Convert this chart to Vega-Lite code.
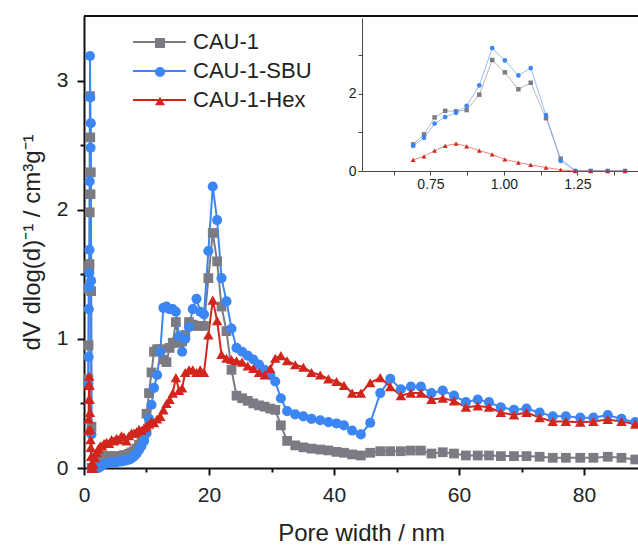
{
"$schema": "https://vega.github.io/schema/vega-lite/v6.json",
"width": 554, "height": 452,
"autosize": {"type": "none"},
"padding": {"left": 84, "top": 16, "right": 0, "bottom": 79},
"background": "white",
"config": {
  "view": {"stroke": null},
  "font": "Liberation Sans",
  "axis": {"labelFont": "Liberation Sans", "titleFont": "Liberation Sans", "labelColor": "#222", "titleColor": "#222", "titleFontWeight": "normal", "grid": false, "domainColor": "#111", "tickColor": "#111"},
  "legend": {"labelFont": "Liberation Sans", "symbolOpacity": 1}
},
"data": {"values": [
{"s":"CAU-1","x":0.691,"y":0.69},{"s":"CAU-1","x":0.728,"y":0.95},{"s":"CAU-1","x":0.764,"y":1.39},{"s":"CAU-1","x":0.8,"y":1.56},{"s":"CAU-1","x":0.837,"y":1.55},{"s":"CAU-1","x":0.873,"y":1.58},{"s":"CAU-1","x":0.916,"y":1.98},{"s":"CAU-1","x":0.96,"y":2.88},{"s":"CAU-1","x":1.003,"y":2.56},{"s":"CAU-1","x":1.049,"y":2.12},{"s":"CAU-1","x":1.091,"y":2.29},{"s":"CAU-1","x":1.143,"y":1.37},{"s":"CAU-1","x":1.193,"y":0.32},{"s":"CAU-1","x":1.243,"y":0},{"s":"CAU-1","x":1.295,"y":0},{"s":"CAU-1","x":1.353,"y":0},{"s":"CAU-1","x":1.412,"y":0},
{"s":"CAU-1","x":1.5,"y":0},{"s":"CAU-1","x":1.75,"y":0.03},{"s":"CAU-1","x":2,"y":0.06},{"s":"CAU-1","x":2.3,"y":0.08},{"s":"CAU-1","x":2.6,"y":0.09},{"s":"CAU-1","x":2.9,"y":0.09},{"s":"CAU-1","x":3.2,"y":0.09},{"s":"CAU-1","x":3.6,"y":0.09},{"s":"CAU-1","x":4,"y":0.09},{"s":"CAU-1","x":4.4,"y":0.09},{"s":"CAU-1","x":4.8,"y":0.09},{"s":"CAU-1","x":5.2,"y":0.09},{"s":"CAU-1","x":5.6,"y":0.09},{"s":"CAU-1","x":6,"y":0.09},{"s":"CAU-1","x":6.4,"y":0.1},{"s":"CAU-1","x":6.8,"y":0.1},{"s":"CAU-1","x":7.2,"y":0.11},{"s":"CAU-1","x":7.6,"y":0.12},{"s":"CAU-1","x":8,"y":0.13},{"s":"CAU-1","x":8.4,"y":0.15},{"s":"CAU-1","x":8.8,"y":0.18},{"s":"CAU-1","x":9.2,"y":0.21},{"s":"CAU-1","x":9.6,"y":0.26},{"s":"CAU-1","x":10,"y":0.42},
{"s":"CAU-1","x":10.4,"y":0.58},{"s":"CAU-1","x":10.8,"y":0.74},{"s":"CAU-1","x":11.2,"y":0.9},{"s":"CAU-1","x":11.7,"y":0.92},{"s":"CAU-1","x":12.2,"y":0.92},{"s":"CAU-1","x":12.7,"y":0.84},{"s":"CAU-1","x":13.2,"y":0.82},{"s":"CAU-1","x":13.7,"y":0.93},{"s":"CAU-1","x":14.2,"y":0.97},{"s":"CAU-1","x":14.7,"y":1.13},{"s":"CAU-1","x":15.2,"y":0.97},{"s":"CAU-1","x":15.7,"y":0.98},{"s":"CAU-1","x":16.2,"y":1.03},{"s":"CAU-1","x":16.8,"y":1.13},{"s":"CAU-1","x":17.4,"y":1.11},{"s":"CAU-1","x":18,"y":1.1},{"s":"CAU-1","x":18.6,"y":1.1},{"s":"CAU-1","x":19.2,"y":1.1},
{"s":"CAU-1","x":19.9,"y":1.47},{"s":"CAU-1","x":20.6,"y":1.82},{"s":"CAU-1","x":21.3,"y":1.6},{"s":"CAU-1","x":22,"y":1.25},{"s":"CAU-1","x":22.8,"y":1.06},{"s":"CAU-1","x":23.6,"y":0.76},{"s":"CAU-1","x":24.4,"y":0.56},{"s":"CAU-1","x":25.3,"y":0.54},{"s":"CAU-1","x":26.2,"y":0.52},{"s":"CAU-1","x":27.1,"y":0.5},{"s":"CAU-1","x":28,"y":0.485},{"s":"CAU-1","x":28.9,"y":0.475},{"s":"CAU-1","x":29.8,"y":0.46},{"s":"CAU-1","x":30.6,"y":0.45},
{"s":"CAU-1","x":31.5,"y":0.33},{"s":"CAU-1","x":32.5,"y":0.21},{"s":"CAU-1","x":33.8,"y":0.175},{"s":"CAU-1","x":35.1,"y":0.16},{"s":"CAU-1","x":36.4,"y":0.15},{"s":"CAU-1","x":37.8,"y":0.143},{"s":"CAU-1","x":39.1,"y":0.136},{"s":"CAU-1","x":40.4,"y":0.125},{"s":"CAU-1","x":41.6,"y":0.118},{"s":"CAU-1","x":42.9,"y":0.105},{"s":"CAU-1","x":44.3,"y":0.097},{"s":"CAU-1","x":45.8,"y":0.118},{"s":"CAU-1","x":47.4,"y":0.13},{"s":"CAU-1","x":49,"y":0.13},{"s":"CAU-1","x":50.7,"y":0.13},{"s":"CAU-1","x":52.3,"y":0.135},{"s":"CAU-1","x":53.9,"y":0.135},{"s":"CAU-1","x":55.6,"y":0.112},{"s":"CAU-1","x":57.4,"y":0.122},{"s":"CAU-1","x":59.2,"y":0.112},{"s":"CAU-1","x":61.1,"y":0.097},{"s":"CAU-1","x":63,"y":0.097},{"s":"CAU-1","x":64.8,"y":0.097},{"s":"CAU-1","x":66.7,"y":0.092},{"s":"CAU-1","x":68.8,"y":0.092},{"s":"CAU-1","x":70.8,"y":0.092},{"s":"CAU-1","x":72.9,"y":0.087},{"s":"CAU-1","x":75,"y":0.079},{"s":"CAU-1","x":77.1,"y":0.079},{"s":"CAU-1","x":79.4,"y":0.079},{"s":"CAU-1","x":81.5,"y":0.079},{"s":"CAU-1","x":83.8,"y":0.087},{"s":"CAU-1","x":86,"y":0.079},{"s":"CAU-1","x":88.2,"y":0.066},{"s":"CAU-1","x":90.5,"y":0.065},
{"s":"CAU-1-SBU","x":0.691,"y":0.65},{"s":"CAU-1-SBU","x":0.728,"y":0.86},{"s":"CAU-1-SBU","x":0.764,"y":1.23},{"s":"CAU-1-SBU","x":0.8,"y":1.4},{"s":"CAU-1-SBU","x":0.837,"y":1.51},{"s":"CAU-1-SBU","x":0.873,"y":1.69},{"s":"CAU-1-SBU","x":0.916,"y":2.22},{"s":"CAU-1-SBU","x":0.96,"y":3.19},{"s":"CAU-1-SBU","x":1.003,"y":2.87},{"s":"CAU-1-SBU","x":1.049,"y":2.48},{"s":"CAU-1-SBU","x":1.091,"y":2.67},{"s":"CAU-1-SBU","x":1.143,"y":1.45},{"s":"CAU-1-SBU","x":1.193,"y":0.26},{"s":"CAU-1-SBU","x":1.243,"y":0},{"s":"CAU-1-SBU","x":1.295,"y":0},{"s":"CAU-1-SBU","x":1.353,"y":0},{"s":"CAU-1-SBU","x":1.412,"y":0},
{"s":"CAU-1-SBU","x":1.5,"y":0},{"s":"CAU-1-SBU","x":1.75,"y":0},{"s":"CAU-1-SBU","x":2,"y":0},{"s":"CAU-1-SBU","x":2.3,"y":0},{"s":"CAU-1-SBU","x":2.6,"y":0.01},{"s":"CAU-1-SBU","x":2.9,"y":0.02},{"s":"CAU-1-SBU","x":3.2,"y":0.03},{"s":"CAU-1-SBU","x":3.6,"y":0.035},{"s":"CAU-1-SBU","x":4,"y":0.04},{"s":"CAU-1-SBU","x":4.4,"y":0.045},{"s":"CAU-1-SBU","x":4.8,"y":0.045},{"s":"CAU-1-SBU","x":5.2,"y":0.045},{"s":"CAU-1-SBU","x":5.6,"y":0.05},{"s":"CAU-1-SBU","x":6,"y":0.05},{"s":"CAU-1-SBU","x":6.4,"y":0.055},{"s":"CAU-1-SBU","x":6.8,"y":0.06},{"s":"CAU-1-SBU","x":7.2,"y":0.065},{"s":"CAU-1-SBU","x":7.6,"y":0.075},{"s":"CAU-1-SBU","x":8,"y":0.09},{"s":"CAU-1-SBU","x":8.4,"y":0.11},{"s":"CAU-1-SBU","x":8.8,"y":0.14},{"s":"CAU-1-SBU","x":9.2,"y":0.17},{"s":"CAU-1-SBU","x":9.6,"y":0.21},{"s":"CAU-1-SBU","x":10,"y":0.27},
{"s":"CAU-1-SBU","x":10.4,"y":0.38},{"s":"CAU-1-SBU","x":10.8,"y":0.49},{"s":"CAU-1-SBU","x":11.2,"y":0.62},{"s":"CAU-1-SBU","x":11.7,"y":0.72},{"s":"CAU-1-SBU","x":12.2,"y":0.9},{"s":"CAU-1-SBU","x":12.7,"y":1.24},{"s":"CAU-1-SBU","x":13.2,"y":1.25},{"s":"CAU-1-SBU","x":13.7,"y":1.23},{"s":"CAU-1-SBU","x":14.2,"y":1.23},{"s":"CAU-1-SBU","x":14.7,"y":1.21},{"s":"CAU-1-SBU","x":15.2,"y":1.02},{"s":"CAU-1-SBU","x":15.7,"y":0.9},{"s":"CAU-1-SBU","x":16.2,"y":1},{"s":"CAU-1-SBU","x":16.8,"y":1.09},{"s":"CAU-1-SBU","x":17.4,"y":1.23},{"s":"CAU-1-SBU","x":18,"y":1.31},{"s":"CAU-1-SBU","x":18.6,"y":1.21},{"s":"CAU-1-SBU","x":19.2,"y":1.19},
{"s":"CAU-1-SBU","x":19.9,"y":1.68},{"s":"CAU-1-SBU","x":20.6,"y":2.18},{"s":"CAU-1-SBU","x":21.3,"y":1.92},{"s":"CAU-1-SBU","x":22,"y":1.47},{"s":"CAU-1-SBU","x":22.8,"y":1.29},{"s":"CAU-1-SBU","x":23.6,"y":1.08},{"s":"CAU-1-SBU","x":24.4,"y":0.93},{"s":"CAU-1-SBU","x":25.3,"y":0.9},{"s":"CAU-1-SBU","x":26.2,"y":0.87},{"s":"CAU-1-SBU","x":27.1,"y":0.84},{"s":"CAU-1-SBU","x":28,"y":0.8},{"s":"CAU-1-SBU","x":28.9,"y":0.76},{"s":"CAU-1-SBU","x":29.8,"y":0.72},{"s":"CAU-1-SBU","x":30.6,"y":0.67},
{"s":"CAU-1-SBU","x":31.5,"y":0.54},{"s":"CAU-1-SBU","x":32.5,"y":0.44},{"s":"CAU-1-SBU","x":33.8,"y":0.415},{"s":"CAU-1-SBU","x":35.1,"y":0.4},{"s":"CAU-1-SBU","x":36.4,"y":0.38},{"s":"CAU-1-SBU","x":37.8,"y":0.37},{"s":"CAU-1-SBU","x":39.1,"y":0.355},{"s":"CAU-1-SBU","x":40.4,"y":0.345},{"s":"CAU-1-SBU","x":41.6,"y":0.33},{"s":"CAU-1-SBU","x":42.9,"y":0.29},{"s":"CAU-1-SBU","x":44.3,"y":0.26},{"s":"CAU-1-SBU","x":45.8,"y":0.35},{"s":"CAU-1-SBU","x":47.4,"y":0.58},{"s":"CAU-1-SBU","x":49,"y":0.69},{"s":"CAU-1-SBU","x":50.7,"y":0.61},{"s":"CAU-1-SBU","x":52.3,"y":0.63},{"s":"CAU-1-SBU","x":53.9,"y":0.63},{"s":"CAU-1-SBU","x":55.6,"y":0.58},{"s":"CAU-1-SBU","x":57.4,"y":0.6},{"s":"CAU-1-SBU","x":59.2,"y":0.56},{"s":"CAU-1-SBU","x":61.1,"y":0.51},{"s":"CAU-1-SBU","x":63,"y":0.53},{"s":"CAU-1-SBU","x":64.8,"y":0.51},{"s":"CAU-1-SBU","x":66.7,"y":0.47},{"s":"CAU-1-SBU","x":68.8,"y":0.45},{"s":"CAU-1-SBU","x":70.8,"y":0.46},{"s":"CAU-1-SBU","x":72.9,"y":0.43},{"s":"CAU-1-SBU","x":75,"y":0.4},{"s":"CAU-1-SBU","x":77.1,"y":0.4},{"s":"CAU-1-SBU","x":79.4,"y":0.39},{"s":"CAU-1-SBU","x":81.5,"y":0.39},{"s":"CAU-1-SBU","x":83.8,"y":0.41},{"s":"CAU-1-SBU","x":86,"y":0.38},{"s":"CAU-1-SBU","x":88.2,"y":0.355},{"s":"CAU-1-SBU","x":90.5,"y":0.35},
{"s":"CAU-1-Hex","x":0.691,"y":0.29},{"s":"CAU-1-Hex","x":0.728,"y":0.38},{"s":"CAU-1-Hex","x":0.764,"y":0.53},{"s":"CAU-1-Hex","x":0.8,"y":0.65},{"s":"CAU-1-Hex","x":0.837,"y":0.71},{"s":"CAU-1-Hex","x":0.873,"y":0.64},{"s":"CAU-1-Hex","x":0.916,"y":0.53},{"s":"CAU-1-Hex","x":0.96,"y":0.43},{"s":"CAU-1-Hex","x":1.003,"y":0.3},{"s":"CAU-1-Hex","x":1.049,"y":0.22},{"s":"CAU-1-Hex","x":1.091,"y":0.16},{"s":"CAU-1-Hex","x":1.143,"y":0.09},{"s":"CAU-1-Hex","x":1.193,"y":0.03},{"s":"CAU-1-Hex","x":1.243,"y":0},{"s":"CAU-1-Hex","x":1.295,"y":0},{"s":"CAU-1-Hex","x":1.353,"y":0},{"s":"CAU-1-Hex","x":1.412,"y":0},
{"s":"CAU-1-Hex","x":1.5,"y":0.03},{"s":"CAU-1-Hex","x":1.75,"y":0.08},{"s":"CAU-1-Hex","x":2,"y":0.12},{"s":"CAU-1-Hex","x":2.3,"y":0.15},{"s":"CAU-1-Hex","x":2.6,"y":0.17},{"s":"CAU-1-Hex","x":2.9,"y":0.17},{"s":"CAU-1-Hex","x":3.2,"y":0.19},{"s":"CAU-1-Hex","x":3.6,"y":0.2},{"s":"CAU-1-Hex","x":4,"y":0.19},{"s":"CAU-1-Hex","x":4.4,"y":0.22},{"s":"CAU-1-Hex","x":4.8,"y":0.21},{"s":"CAU-1-Hex","x":5.2,"y":0.23},{"s":"CAU-1-Hex","x":5.6,"y":0.22},{"s":"CAU-1-Hex","x":6,"y":0.25},{"s":"CAU-1-Hex","x":6.4,"y":0.24},{"s":"CAU-1-Hex","x":6.8,"y":0.21},{"s":"CAU-1-Hex","x":7.2,"y":0.25},{"s":"CAU-1-Hex","x":7.6,"y":0.27},{"s":"CAU-1-Hex","x":8,"y":0.27},{"s":"CAU-1-Hex","x":8.4,"y":0.28},{"s":"CAU-1-Hex","x":8.8,"y":0.3},{"s":"CAU-1-Hex","x":9.2,"y":0.29},{"s":"CAU-1-Hex","x":9.6,"y":0.31},{"s":"CAU-1-Hex","x":10,"y":0.32},
{"s":"CAU-1-Hex","x":10.4,"y":0.34},{"s":"CAU-1-Hex","x":10.8,"y":0.36},{"s":"CAU-1-Hex","x":11.2,"y":0.35},{"s":"CAU-1-Hex","x":11.7,"y":0.38},{"s":"CAU-1-Hex","x":12.2,"y":0.4},{"s":"CAU-1-Hex","x":12.7,"y":0.45},{"s":"CAU-1-Hex","x":13.2,"y":0.5},{"s":"CAU-1-Hex","x":13.7,"y":0.53},{"s":"CAU-1-Hex","x":14.2,"y":0.58},{"s":"CAU-1-Hex","x":14.7,"y":0.7},{"s":"CAU-1-Hex","x":15.2,"y":0.6},{"s":"CAU-1-Hex","x":15.7,"y":0.62},{"s":"CAU-1-Hex","x":16.2,"y":0.74},{"s":"CAU-1-Hex","x":16.8,"y":0.76},{"s":"CAU-1-Hex","x":17.4,"y":0.76},{"s":"CAU-1-Hex","x":18,"y":0.74},{"s":"CAU-1-Hex","x":18.6,"y":0.76},{"s":"CAU-1-Hex","x":19.2,"y":0.74},
{"s":"CAU-1-Hex","x":19.9,"y":1.03},{"s":"CAU-1-Hex","x":20.6,"y":1.3},{"s":"CAU-1-Hex","x":21.3,"y":1.14},{"s":"CAU-1-Hex","x":22,"y":0.88},{"s":"CAU-1-Hex","x":22.8,"y":0.85},{"s":"CAU-1-Hex","x":23.6,"y":0.84},{"s":"CAU-1-Hex","x":24.4,"y":0.83},{"s":"CAU-1-Hex","x":25.3,"y":0.82},{"s":"CAU-1-Hex","x":26.2,"y":0.79},{"s":"CAU-1-Hex","x":27.1,"y":0.77},{"s":"CAU-1-Hex","x":28,"y":0.74},{"s":"CAU-1-Hex","x":28.9,"y":0.72},{"s":"CAU-1-Hex","x":29.8,"y":0.77},{"s":"CAU-1-Hex","x":30.6,"y":0.85},
{"s":"CAU-1-Hex","x":31.5,"y":0.87},{"s":"CAU-1-Hex","x":32.5,"y":0.83},{"s":"CAU-1-Hex","x":33.8,"y":0.8},{"s":"CAU-1-Hex","x":35.1,"y":0.78},{"s":"CAU-1-Hex","x":36.4,"y":0.74},{"s":"CAU-1-Hex","x":37.8,"y":0.72},{"s":"CAU-1-Hex","x":39.1,"y":0.69},{"s":"CAU-1-Hex","x":40.4,"y":0.67},{"s":"CAU-1-Hex","x":41.6,"y":0.64},{"s":"CAU-1-Hex","x":42.9,"y":0.58},{"s":"CAU-1-Hex","x":44.3,"y":0.58},{"s":"CAU-1-Hex","x":45.8,"y":0.66},{"s":"CAU-1-Hex","x":47.4,"y":0.7},{"s":"CAU-1-Hex","x":49,"y":0.63},{"s":"CAU-1-Hex","x":50.7,"y":0.56},{"s":"CAU-1-Hex","x":52.3,"y":0.58},{"s":"CAU-1-Hex","x":53.9,"y":0.58},{"s":"CAU-1-Hex","x":55.6,"y":0.53},{"s":"CAU-1-Hex","x":57.4,"y":0.54},{"s":"CAU-1-Hex","x":59.2,"y":0.52},{"s":"CAU-1-Hex","x":61.1,"y":0.47},{"s":"CAU-1-Hex","x":63,"y":0.48},{"s":"CAU-1-Hex","x":64.8,"y":0.47},{"s":"CAU-1-Hex","x":66.7,"y":0.43},{"s":"CAU-1-Hex","x":68.8,"y":0.41},{"s":"CAU-1-Hex","x":70.8,"y":0.43},{"s":"CAU-1-Hex","x":72.9,"y":0.39},{"s":"CAU-1-Hex","x":75,"y":0.36},{"s":"CAU-1-Hex","x":77.1,"y":0.36},{"s":"CAU-1-Hex","x":79.4,"y":0.355},{"s":"CAU-1-Hex","x":81.5,"y":0.36},{"s":"CAU-1-Hex","x":83.8,"y":0.375},{"s":"CAU-1-Hex","x":86,"y":0.36},{"s":"CAU-1-Hex","x":88.2,"y":0.34},{"s":"CAU-1-Hex","x":90.5,"y":0.34}
]},
"resolve": {"scale": {"x": "independent", "y": "independent", "size": "independent"}},
"layer": [
  {
    "mark": {"type": "line", "strokeWidth": 2},
    "encoding": {
      "x": {"field": "x", "type": "quantitative", "scale": {"domain": [0, 88.64], "nice": false, "zero": false},
        "axis": {"orient": "bottom", "values": [0,20,40,60,80], "format": "d", "tickSize": 7, "tickWidth": 2, "domainWidth": 2, "labelFontSize": 21, "labelPadding": 9, "title": "Pore width / nm", "titleFontSize": 24, "titlePadding": 16, "labelOverlap": false, "labelFlush": false}},
      "y": {"field": "y", "type": "quantitative", "scale": {"domain": [0, 3.5], "nice": false},
        "axis": {"orient": "left", "values": [0,1,2,3], "format": "d", "tickSize": 7, "tickWidth": 2, "domainWidth": 2, "labelFontSize": 21, "labelPadding": 9, "title": "dV dlog(d)⁻¹ / cm³g⁻¹", "titleFontSize": 24, "titlePadding": 12, "labelOverlap": false}},
      "stroke": {"field": "s", "type": "nominal", "sort": ["CAU-1", "CAU-1-SBU", "CAU-1-Hex"], "scale": {"range": ["#7b7b84", "#3b86f2", "#d2261c"]},
        "legend": {"orient": "none", "legendX": 48, "legendY": 15, "title": null, "symbolType": "stroke", "symbolSize": 2809, "symbolStrokeWidth": 2, "clipHeight": 22, "labelFontSize": 22, "labelOffset": 6, "rowPadding": 7, "padding": 0, "labelColor": "#222"}}
    }
  },
  {
    "mark": {"type": "point", "filled": true, "opacity": 1, "strokeWidth": 0},
    "encoding": {
      "x": {"field": "x", "type": "quantitative", "scale": {"domain": [0, 88.64], "nice": false, "zero": false}, "axis": null},
      "y": {"field": "y", "type": "quantitative", "scale": {"domain": [0, 3.5], "nice": false}, "axis": null},
      "fill": {"field": "s", "type": "nominal", "scale": {"domain": ["CAU-1", "CAU-1-SBU", "CAU-1-Hex"], "range": ["#7b7b84", "#3b86f2", "#d2261c"]},
        "legend": {"orient": "none", "legendX": 65, "legendY": 16, "title": null, "symbolSize": 100, "symbolStrokeWidth": 0, "clipHeight": 22, "labelFontSize": 22, "labelOffset": 6, "rowPadding": 7, "padding": 0, "labelExpr": "''"}},
      "shape": {"field": "s", "type": "nominal", "scale": {"domain": ["CAU-1", "CAU-1-SBU", "CAU-1-Hex"], "range": ["square", "circle", "triangle-up"]},
        "legend": {"orient": "none", "legendX": 65, "legendY": 16, "title": null, "symbolSize": 100, "symbolStrokeWidth": 0, "clipHeight": 22, "labelFontSize": 22, "labelOffset": 6, "rowPadding": 7, "padding": 0, "labelExpr": "''"}},
      "size": {"field": "s", "type": "nominal", "scale": {"domain": ["CAU-1", "CAU-1-SBU", "CAU-1-Hex"], "range": [95, 110, 135]}, "legend": null}
    }
  },
  {
    "data": {"values": [{}]},
    "mark": {"type": "rule", "color": "#111", "strokeWidth": 2},
    "encoding": {
      "x": {"datum": 0, "type": "quantitative", "scale": {"domain": [0, 88.64], "nice": false, "zero": false},
        "axis": {"orient": "bottom", "values": [10,30,50,70], "labels": false, "domain": false, "tickSize": 4, "tickWidth": 2, "title": null}},
      "x2": {"datum": 88.64},
      "y": {"datum": 3.5, "type": "quantitative", "scale": {"domain": [0, 3.5], "nice": false},
        "axis": {"orient": "left", "values": [0.5,1.5,2.5], "labels": false, "domain": false, "tickSize": 4, "tickWidth": 2, "title": null}}
    }
  },
  {
    "transform": [{"filter": "datum.x <= 1.46"}],
    "mark": {"type": "line", "strokeWidth": 1, "strokeOpacity": 0.55},
    "encoding": {
      "x": {"field": "x", "type": "quantitative", "scale": {"domain": [0.517, 1.456], "range": [278, 554], "nice": false, "zero": false},
        "axis": {"orient": "bottom", "offset": -297, "values": [0.625,0.75,0.875,1,1.125,1.25,1.375], "labelExpr": "(datum.value * 1000) % 250 === 0 ? format(datum.value, '.2f') : ''", "tickSize": 4, "tickWidth": 1, "domainWidth": 1, "domainColor": "#444", "tickColor": "#444", "labelFontSize": 14, "labelPadding": 2, "title": null, "labelOverlap": false, "labelFlush": false}},
      "y": {"field": "y", "type": "quantitative", "scale": {"domain": [0, 3.97], "range": [155, 2], "nice": false},
        "axis": {"orient": "left", "offset": -278, "values": [0,1,2,3], "labelExpr": "datum.value % 2 === 0 ? format(datum.value, 'd') : ''", "tickSize": 4, "tickWidth": 1, "domainWidth": 1, "domainColor": "#444", "tickColor": "#444", "labelFontSize": 14, "labelPadding": 2, "title": null, "labelOverlap": false}},
      "stroke": {"field": "s", "type": "nominal", "sort": ["CAU-1", "CAU-1-SBU", "CAU-1-Hex"], "legend": null}
    }
  },
  {
    "transform": [{"filter": "datum.x <= 1.46"}],
    "mark": {"type": "point", "filled": true, "opacity": 1, "strokeWidth": 0},
    "encoding": {
      "x": {"field": "x", "type": "quantitative", "scale": {"domain": [0.517, 1.456], "range": [278, 554], "nice": false, "zero": false}, "axis": null},
      "y": {"field": "y", "type": "quantitative", "scale": {"domain": [0, 3.97], "range": [155, 2], "nice": false}, "axis": null},
      "fill": {"field": "s", "type": "nominal", "legend": null},
      "shape": {"field": "s", "type": "nominal", "legend": null},
      "size": {"field": "s", "type": "nominal", "scale": {"domain": ["CAU-1", "CAU-1-SBU", "CAU-1-Hex"], "range": [20, 24, 30]}, "legend": null}
    }
  }
]
}
